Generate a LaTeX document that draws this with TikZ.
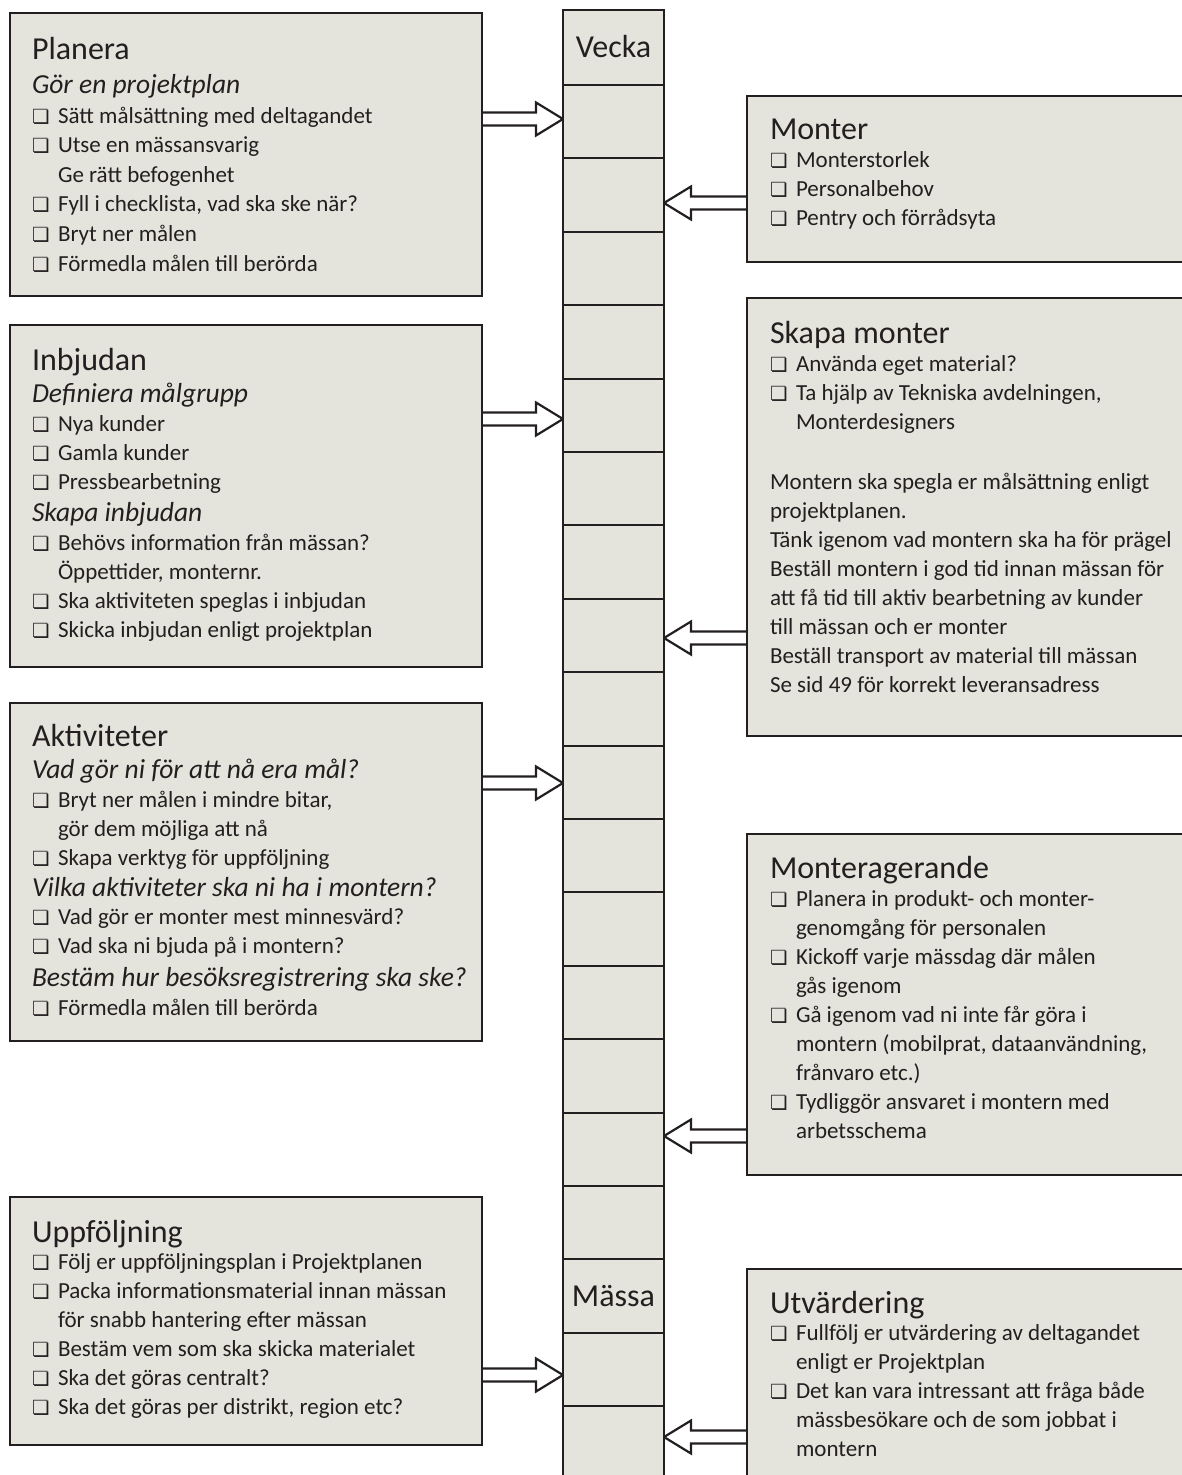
\documentclass[tikz,border=0pt]{standalone}
\usepackage{fontspec}
\setmainfont{Carlito}
\newfontfamily\symf{DejaVu Sans}
\usetikzlibrary{calc,backgrounds}
\definecolor{boxfill}{RGB}{228,228,220}
\definecolor{boxline}{RGB}{35,31,32}
\newcommand\cbx{\makebox[26pt][l]{\symf\fontsize{19.5}{19.5}\selectfont ❏}}
\newcommand\ttl[1]{{\fontsize{32}{32}\selectfont #1\par}}
\newcommand\sub[2][32]{{\itshape\fontsize{27.5}{#1}\selectfont #2\par}}
\newcommand\itm[2][29]{{\fontsize{23}{#1}\selectfont\cbx #2\par}}
\newcommand\cnt[2][29]{{\fontsize{23}{#1}\selectfont\hspace*{26pt}#2\par}}
\newcommand\pl[2][29]{{\fontsize{23}{#1}\selectfont #2\par}}
\newcommand\rarrow[2]{\draw[barrow] let \p1=(#1), \p2=(#2) in
  ({\x1},{\y1+6.5pt}) -- ({\x2-27pt},{\y1+6.5pt}) -- ({\x2-27pt},{\y1+16.5pt}) -- ({\x2},{\y1})
  -- ({\x2-27pt},{\y1-16.5pt}) -- ({\x2-27pt},{\y1-6.5pt}) -- ({\x1},{\y1-6.5pt});}
\newcommand\larrow[2]{\draw[barrow] let \p1=(#1), \p2=(#2) in
  ({\x1},{\y1+6.5pt}) -- ({\x2+27pt},{\y1+6.5pt}) -- ({\x2+27pt},{\y1+16.5pt}) -- ({\x2},{\y1})
  -- ({\x2+27pt},{\y1-16.5pt}) -- ({\x2+27pt},{\y1-6.5pt}) -- ({\x1},{\y1-6.5pt});}
\tikzset{
  box/.style={draw=boxline, fill=boxfill, line width=2.2pt, inner sep=0pt, outer sep=0pt, anchor=north west},
  colbox/.style={draw=boxline, fill=boxfill, line width=2.2pt, inner sep=0pt, outer sep=0pt, anchor=north west, minimum width=101pt},
  cell/.style={draw=boxline, line width=2pt},
  txt/.style={inner sep=0pt, outer sep=0pt, anchor=base west, text=boxline},
  lab/.style={inner sep=0pt, outer sep=0pt, anchor=base, text=boxline, font=\fontsize{32}{32}\selectfont},
  barrow/.style={draw=boxline, fill=white, line width=2.2pt, line join=miter},
}
\newcommand\tbox[1]{\begin{minipage}[t]{600pt}\parindent=0pt\parskip=0pt #1\end{minipage}}
\begin{document}
\begin{tikzpicture}[x=1pt,y=-1pt]
\useasboundingbox (0,0) rectangle (1181,1475);
% column
\node[colbox, minimum height=1490pt] (col) at (563,10) {};
\foreach \k in {0,...,18} {
  \draw[cell] ($(col.north west)+(0,75+73.4*\k)$) -- ($(col.north east)+(0,75+73.4*\k)$);
}
\node[lab] (vecka) at (613.5,57) {Vecka};
\node[lab] (massa) at (613.5,1306) {Mässa};
% left boxes
\node[box, minimum width=472pt, minimum height=283pt] (planera) at (10,13) {};
\node[box, minimum width=472pt, minimum height=342pt] (inbjudan) at (10,325) {};
\node[box, minimum width=472pt, minimum height=338pt] (aktiv) at (10,703) {};
\node[box, minimum width=472pt, minimum height=248pt] (uppf) at (10,1197) {};
% right boxes
\node[box, minimum width=460pt, minimum height=166pt] (monter) at (747,96) {};
\node[box, minimum width=460pt, minimum height=438pt] (skapa) at (747,298) {};
\node[box, minimum width=460pt, minimum height=341pt] (monterag) at (747,834) {};
\node[box, minimum width=460pt, minimum height=240pt] (utv) at (747,1269) {};
% arrows
\begin{scope}[on background layer]
\rarrow{planera.east |- 0,119}{col.west |- 0,119}
\rarrow{inbjudan.east |- 0,419}{col.west |- 0,419}
\rarrow{aktiv.east |- 0,783}{col.west |- 0,783}
\rarrow{uppf.east |- 0,1375}{col.west |- 0,1375}
\larrow{monter.west |- 0,203}{col.east |- 0,203}
\larrow{skapa.west |- 0,638}{col.east |- 0,638}
\larrow{monterag.west |- 0,1136}{col.east |- 0,1136}
\larrow{utv.west |- 0,1437}{col.east |- 0,1437}
\end{scope}
% texts
\node[txt] (tplanera) at (32,59) {\tbox{%
\ttl{Planera}
\sub[34]{Gör en projektplan}
\itm[30]{Sätt målsättning med deltagandet}
\itm[29.6]{Utse en mässansvarig}
\cnt[29.6]{Ge rätt befogenhet}
\itm[29.6]{Fyll i checklista, vad ska ske när?}
\itm[29.6]{Bryt ner målen}
\itm[30]{Förmedla målen till berörda}}};
\node[txt] (tinbjudan) at (32,370) {\tbox{%
\ttl{Inbjudan}
\sub{Definiera målgrupp}
\itm{Nya kunder}
\itm{Gamla kunder}
\itm{Pressbearbetning}
\sub{Skapa inbjudan}
\itm{Behövs information från mässan?}
\cnt{Öppettider, monternr.}
\itm{Ska aktiviteten speglas i inbjudan}
\itm{Skicka inbjudan enligt projektplan}}};
\node[txt] (taktiv) at (32,746) {\tbox{%
\ttl{Aktiviteter}
\sub{Vad gör ni för att nå era mål?}
\itm{Bryt ner målen i mindre bitar,}
\cnt{gör dem möjliga att nå}
\itm{Skapa verktyg för uppföljning}
\sub[31]{Vilka aktiviteter ska ni ha i montern?}
\itm[28]{Vad gör er monter mest minnesvärd?}
\itm{Vad ska ni bjuda på i montern?}
\sub[33]{Bestäm hur besöksregistrering ska ske?}
\itm{Förmedla målen till berörda}}};
\node[txt] (tuppf) at (32,1242) {\tbox{%
\ttl{Uppföljning}
\itm[27.5]{Följ er uppföljningsplan i Projektplanen}
\itm{Packa informationsmaterial innan mässan}
\cnt{för snabb hantering efter mässan}
\itm{Bestäm vem som ska skicka materialet}
\itm{Ska det göras centralt?}
\itm{Ska det göras per distrikt, region etc?}}};
\node[txt] (tmonter) at (770,139) {\tbox{%
\ttl{Monter}
\itm[28]{Monterstorlek}
\itm{Personalbehov}
\itm{Pentry och förrådsyta}}};
\node[txt] (tskapa) at (770,343) {\tbox{%
\ttl{Skapa monter}
\itm[28]{Använda eget material?}
\itm{Ta hjälp av Tekniska avdelningen,}
\cnt{Monterdesigners}
\pl[60]{Montern ska spegla er målsättning enligt}
\pl{projektplanen.}
\pl{Tänk igenom vad montern ska ha för prägel}
\pl{Beställ montern i god tid innan mässan för}
\pl{att få tid till aktiv bearbetning av kunder}
\pl{till mässan och er monter}
\pl{Beställ transport av material till mässan}
\pl{Se sid 49 för korrekt leveransadress}}};
\node[txt] (tmonterag) at (770,878) {\tbox{%
\ttl{Monteragerande}
\itm[28]{Planera in produkt- och monter-}
\cnt{genomgång för personalen}
\itm{Kickoff varje mässdag där målen}
\cnt{gås igenom}
\itm{Gå igenom vad ni inte får göra i}
\cnt{montern (mobilprat, dataanvändning,}
\cnt{frånvaro etc.)}
\itm{Tydliggör ansvaret i montern med}
\cnt{arbetsschema}}};
\node[txt] (tutv) at (770,1313) {\tbox{%
\ttl{Utvärdering}
\itm[27]{Fullfölj er utvärdering av deltagandet}
\cnt{enligt er Projektplan}
\itm{Det kan vara intressant att fråga både}
\cnt{mässbesökare och de som jobbat i}
\cnt{montern}}};
\end{tikzpicture}
\end{document}
